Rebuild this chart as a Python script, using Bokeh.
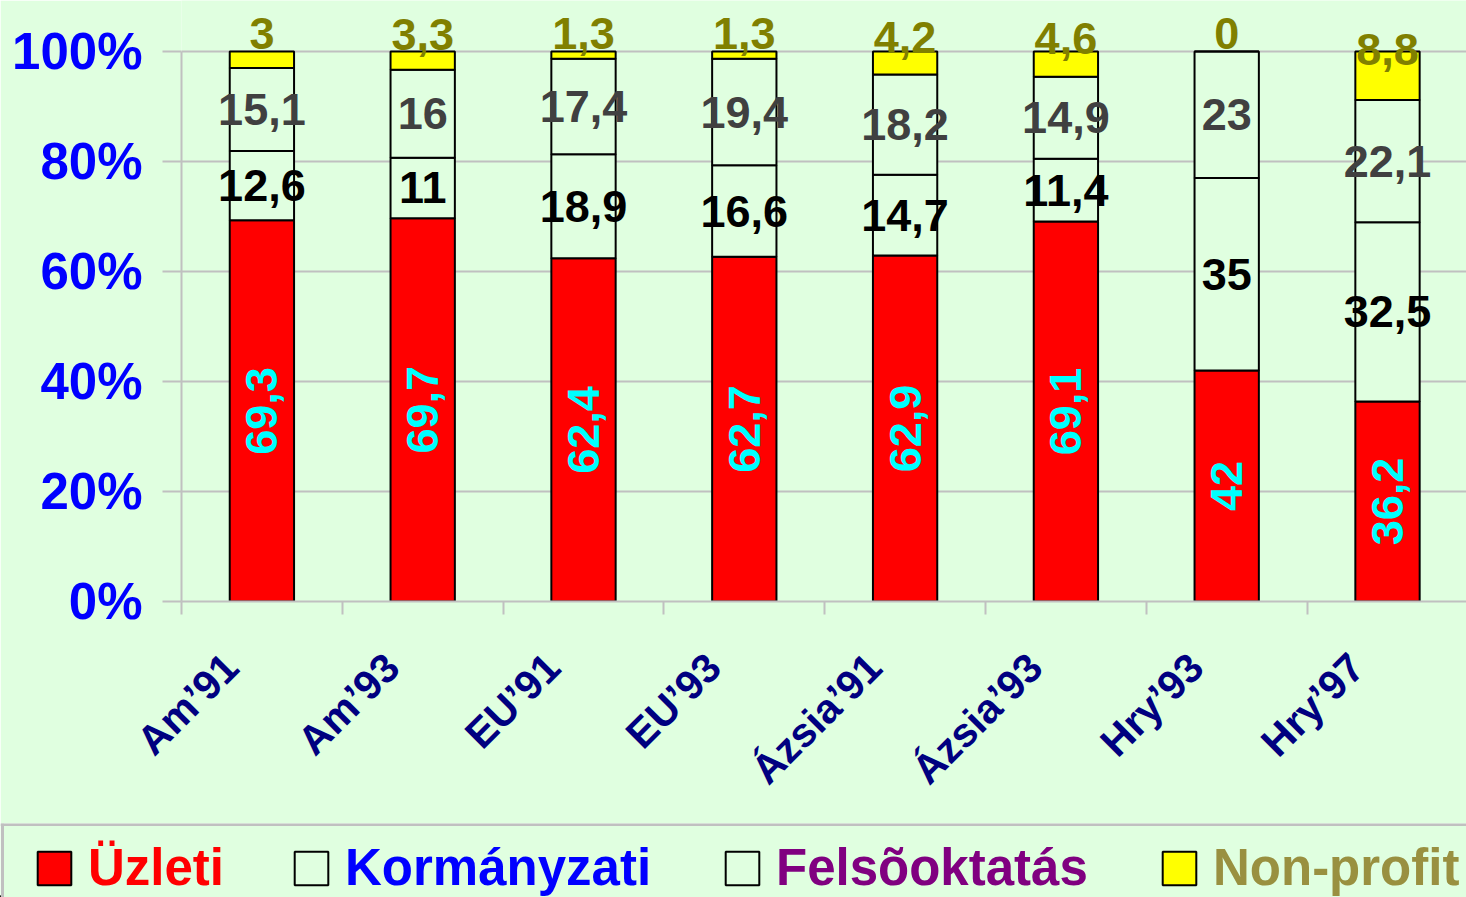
import numpy as np
from bokeh.plotting import figure
from bokeh.models import (ColumnDataSource, Range1d, FixedTicker, Legend, LegendItem, Span)
from bokeh.layouts import column
from bokeh.core.properties import value
from bokeh.embed import file_html
from bokeh.resources import INLINE

# ---------------- data ----------------
categories = ["Am\u201991", "Am\u201993", "EU\u201991", "EU\u201993",
              "\u00c1zsia\u201991", "\u00c1zsia\u201993", "Hry\u201993", "Hry\u201997"]
series_names = ["\u00dczleti", "Korm\u00e1nyzati", "Fels\u00f5oktat\u00e1s", "Non-profit"]
uzleti = [69.3, 69.7, 62.4, 62.7, 62.9, 69.1, 42.0, 36.2]
kormanyzati = [12.6, 11.0, 18.9, 16.6, 14.7, 11.4, 35.0, 32.5]
felsooktatas = [15.1, 16.0, 17.4, 19.4, 18.2, 14.9, 23.0, 22.1]
nonprofit = [3.0, 3.3, 1.3, 1.3, 4.2, 4.6, 0.0, 8.8]
y_ticks = [0, 20, 40, 60, 80, 100]
y_tick_labels = ["0%", "20%", "40%", "60%", "80%", "100%"]

# ---------------- style ----------------
BG = "#E0FFE0"
GRID = "#C0C0C0"
FONT = "Liberation Sans"
series_fill = ["#FF0000", BG, BG, "#FFFF00"]
label_colors = ["#00FFFF", "#000000", "#404040", "#808000"]
legend_text_colors = ["#FF0000", "#0000FF", "#800080", "#999040"]

raw = np.array([uzleti, kormanyzati, felsooktatas, nonprofit])
totals = raw.sum(axis=0)
pct = raw / totals * 100.0
n = len(categories)
xc = np.arange(n) + 0.5

def fmt(v):
    return f"{v:g}".replace(".", ",")

keys = ["s0", "s1", "s2", "s3"]
data = {"x": xc}
for k, row in zip(keys, pct):
    data[k] = row
src = ColumnDataSource(data)

W = 1466
H = 897
H_MAIN = 823
H_LEG = H - H_MAIN
CAT_PX = 160.8
PX_PER_PCT = 5.5
FRAME_L = 181
FRAME_B = 601          # pixel row of 0%
FRAME_W = W - FRAME_L
top = FRAME_B / PX_PER_PCT

def no_frame_align(fig):
    if "frame_align" in fig.properties():
        fig.frame_align = False

p = figure(width=W, height=H_MAIN, output_backend="svg", toolbar_location=None,
           x_range=Range1d(0, FRAME_W / CAT_PX), y_range=Range1d(0, top),
           min_border_left=FRAME_L, min_border_right=0, min_border_top=0,
           min_border_bottom=H_MAIN - FRAME_B)
no_frame_align(p)
p.background_fill_color = BG
p.border_fill_color = BG
p.outline_line_color = None

# grid
p.xgrid.grid_line_color = None
p.ygrid.ticker = FixedTicker(ticks=y_ticks)
p.ygrid.grid_line_color = GRID
p.ygrid.grid_line_width = 2

# y axis
ya = p.yaxis[0]
ya.ticker = FixedTicker(ticks=y_ticks)
ya.major_label_overrides = {t: l for t, l in zip(y_ticks, y_tick_labels)}
ya.bounds = (0, 100)
ya.axis_line_color = GRID
ya.axis_line_width = 2
ya.major_tick_line_color = GRID
ya.major_tick_line_width = 2
ya.major_tick_out = 19
ya.major_tick_in = 0
ya.minor_tick_line_color = None
ya.major_label_standoff = 20
ya.major_label_text_font = FONT
ya.major_label_text_font_style = "bold"
ya.major_label_text_font_size = "51px"
ya.major_label_text_color = "#0000FF"

# x axis
label_pos = [i + 0.31 for i in range(n)]
xa = p.xaxis[0]
xa.ticker = FixedTicker(ticks=label_pos, minor_ticks=list(range(n + 1)))
xa.major_label_overrides = {t: c for t, c in zip(label_pos, categories)}
xa.bounds = (0, n)
xa.axis_line_color = GRID
xa.axis_line_width = 2
xa.major_tick_line_color = None
xa.major_tick_out = 13
xa.major_tick_in = 0
xa.minor_tick_line_color = GRID
xa.minor_tick_line_width = 2
xa.minor_tick_out = 13
xa.minor_tick_in = 0
xa.major_label_orientation = np.pi / 4
xa.major_label_standoff = 46
xa.major_label_text_font = FONT
xa.major_label_text_font_style = "bold"
xa.major_label_text_font_size = "41px"
xa.major_label_text_color = "#000080"

# bars
bars = p.vbar_stack(keys, x="x", width=0.4, source=src, fill_color=series_fill,
                    line_color="black", line_width=2)

# labels
cum = np.cumsum(pct, axis=0)
bottoms = cum - pct
centers = bottoms + pct / 2
for i in range(4):
    ys = centers[i].copy()
    if i == 3:
        ys = np.minimum(ys + 4.7, 103.3)
    lsrc = ColumnDataSource(dict(x=xc, y=ys, t=[fmt(v) for v in raw[i]]))
    p.text(x="x", y="y", text="t", source=lsrc,
           angle=(np.pi / 2 if i == 0 else 0),
           text_align="center", text_baseline="middle",
           text_font=value(FONT), text_font_style="bold",
           text_font_size="45px", text_color=label_colors[i])

# ---------------- legend strip ----------------
q = figure(width=W, height=H_LEG, output_backend="svg", toolbar_location=None,
           x_range=Range1d(0, W), y_range=Range1d(0, H_LEG),
           min_border=0, min_border_left=0, min_border_right=0,
           min_border_top=0, min_border_bottom=0)
no_frame_align(q)
q.axis.visible = False
q.grid.visible = False
q.background_fill_color = BG
q.border_fill_color = BG
q.outline_line_color = None
q.add_layout(Span(location=H_LEG - 1, dimension="width", line_color=GRID, line_width=3))
q.add_layout(Span(location=2, dimension="height", line_color=GRID, line_width=3))

GW = 42                 # bokeh insets area swatches by 10% per side -> ~34px visible
INSET = 4
leg_x = [37, 294, 725, 1162]
for i in range(4):
    # proxy swatch renderer kept outside the visible range
    r = q.vbar(x=[-1000], top=[1], bottom=[0], width=1, fill_color=series_fill[i],
               line_color="black", line_width=2)
    lg = Legend(items=[LegendItem(label=series_names[i], renderers=[r])],
                location=(leg_x[i] - INSET, 0), orientation="horizontal",
                glyph_width=GW, glyph_height=GW, label_standoff=17 - INSET,
                label_text_font=FONT, label_text_font_style="bold",
                label_text_font_size="51px", label_text_color=legend_text_colors[i],
                padding=0, margin=0, spacing=0, border_line_color=None,
                background_fill_alpha=0)
    q.add_layout(lg, "center")

layout = column(p, q, spacing=0)
open("out.html", "w").write(file_html(layout, INLINE))
